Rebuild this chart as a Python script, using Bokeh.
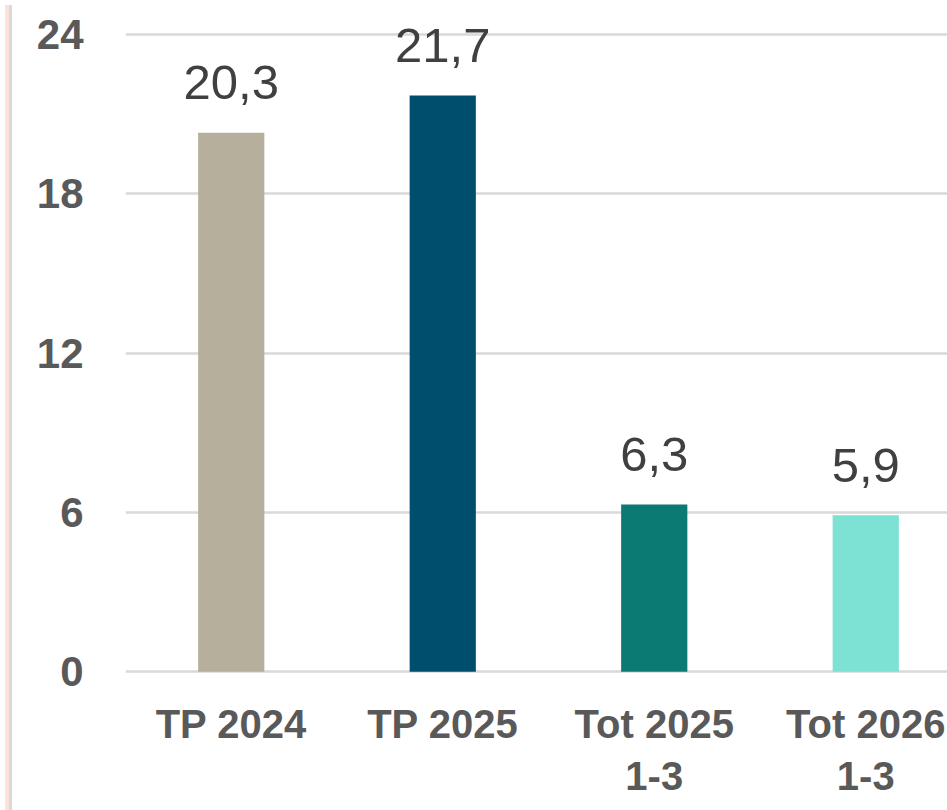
from bokeh.plotting import figure
from bokeh.models import ColumnDataSource, Range1d, FixedTicker, Div
from bokeh.layouts import row
from bokeh.core.properties import value
from bokeh.embed import file_html
from bokeh.resources import INLINE

categories = ["TP 2024", "TP 2025", "Tot 2025\n1-3", "Tot 2026\n1-3"]
values = [20.3, 21.7, 6.3, 5.9]
labels = ["20,3", "21,7", "6,3", "5,9"]
colors = ["#B5AF9B", "#004E6D", "#0B7A73", "#7DE1D4"]
y_ticks = [0, 6, 12, 18, 24]

xs = list(range(len(categories)))
src = ColumnDataSource(dict(x=xs, top=values, label=labels, color=colors))

p = figure(width=932, height=810, output_backend="svg", toolbar_location=None,
           x_range=Range1d(-0.5, 3.396), y_range=Range1d(-0.1, 24.98),
           min_border_left=108, min_border_right=0, min_border_top=8, min_border_bottom=136)
p.outline_line_color = None
p.background_fill_color = "white"
p.border_fill_color = "white"

p.vbar(x="x", top="top", bottom=0, width=0.313, fill_color="color", line_color=None, source=src)
p.text(x="x", y="top", text="label", source=src, text_align="center", text_baseline="alphabetic",
       y_offset=-50, text_font=value("Liberation Sans"), text_font_size="49px", text_color="#404040")

p.xgrid.grid_line_color = None
p.ygrid.grid_line_color = "#D9D9D9"
p.ygrid.grid_line_width = 2.5
p.ygrid.ticker = FixedTicker(ticks=y_ticks)

p.yaxis.ticker = FixedTicker(ticks=y_ticks)
p.xaxis.ticker = FixedTicker(ticks=xs)
p.xaxis.major_label_overrides = {i: c for i, c in enumerate(categories)}
for ax in (p.xaxis, p.yaxis):
    ax.axis_line_color = None
    ax.major_tick_line_color = None
    ax.minor_tick_line_color = None
    ax.major_label_text_font = "Liberation Sans"
    ax.major_label_text_font_style = "bold"
    ax.major_label_text_font_size = "42px"
    ax.major_label_text_color = "#595959"
p.xaxis.major_label_text_font_size = "40px"
p.yaxis.major_label_standoff = 36
p.xaxis.major_label_standoff = 21

strip = Div(width=7, height=810, styles={
    "background": "linear-gradient(to right, #FDE2D8 0px, #FDE2D8 4px, #D9D9D9 4px, #D9D9D9 7px)"})

layout = row(strip, p, spacing=0)
open("out.html", "w").write(file_html(layout, INLINE))
